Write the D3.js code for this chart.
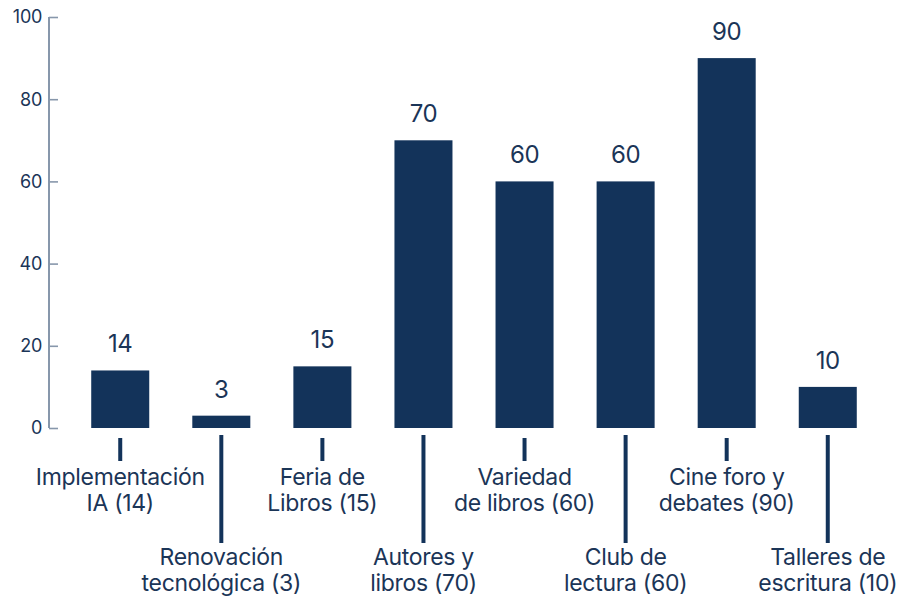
<!DOCTYPE html>
<html><head><meta charset="utf-8">
<script src="https://cdn.jsdelivr.net/npm/d3@7"></script>
<style>body{margin:0;background:#fff}svg{display:block}text{font-family:Inter,"Noto Sans",sans-serif}</style>
</head><body><svg id="c" width="898" height="597"></svg>
<script>
const categories = [["Implementación","IA (14)"],["Renovación","tecnológica (3)"],["Feria de","Libros (15)"],["Autores y","libros (70)"],["Variedad","de libros (60)"],["Club de","lectura (60)"],["Cine foro y","debates (90)"],["Talleres de","escritura (10)"]];
const values = [14,3,15,70,60,60,90,10];
const yTicks = [0,20,40,60,80,100];

const svg = d3.select("#c");
const dark = "#13335a", textC = "#1b3557", axisC = "#8797ab";
const x = d3.scaleBand().domain(d3.range(values.length)).range([70,878]).paddingInner(0.426).paddingOuter(0.21);
const y = d3.scaleLinear().domain([0,100]).range([428,17]);

const ax = svg.append("g").attr("transform","translate(49,0)")
  .call(d3.axisRight(y).tickValues(yTicks).tickSize(9).tickFormat(""));
ax.select(".domain").attr("stroke",axisC).attr("stroke-width",2).attr("d","M0,17V428");
ax.selectAll(".tick line").attr("stroke",axisC).attr("stroke-width",1.6);
svg.append("g").selectAll("text").data(yTicks).join("text")
  .attr("x",42).attr("y",d=>y(d)).attr("dy","0.36em").attr("text-anchor","end")
  .attr("font-size",18).attr("fill",textC).attr("letter-spacing","-0.3").text(d=>d);

svg.append("g").selectAll("rect").data(values).join("rect")
  .attr("x",(d,i)=>x(i)).attr("width",x.bandwidth())
  .attr("y",d=>y(d)).attr("height",d=>y(0)-y(d)).attr("fill",dark);

svg.append("g").selectAll("text").data(values).join("text")
  .attr("x",(d,i)=>x(i)+x.bandwidth()/2).attr("y",d=>y(d)-18)
  .attr("text-anchor","middle").attr("font-size",24).attr("fill",textC).attr("letter-spacing","-0.4").text(d=>d);

const lab = svg.append("g").selectAll("g").data(categories).join("g")
  .attr("transform",(d,i)=>`translate(${x(i)+x.bandwidth()/2},0)`);
lab.append("line").attr("stroke",dark).attr("stroke-width",4)
  .attr("y1",(d,i)=>i%2?435:438).attr("y2",(d,i)=>i%2?543:461);
lab.each(function(d,i){
  const b = i%2?[565,591]:[485,511];
  const t = d3.select(this).append("text").attr("text-anchor","middle")
    .attr("font-size",23).attr("fill",textC).attr("letter-spacing","-0.3");
  d.forEach((s,k)=>t.append("tspan").attr("x",0).attr("y",b[k]).text(s));
});
</script></body></html>
